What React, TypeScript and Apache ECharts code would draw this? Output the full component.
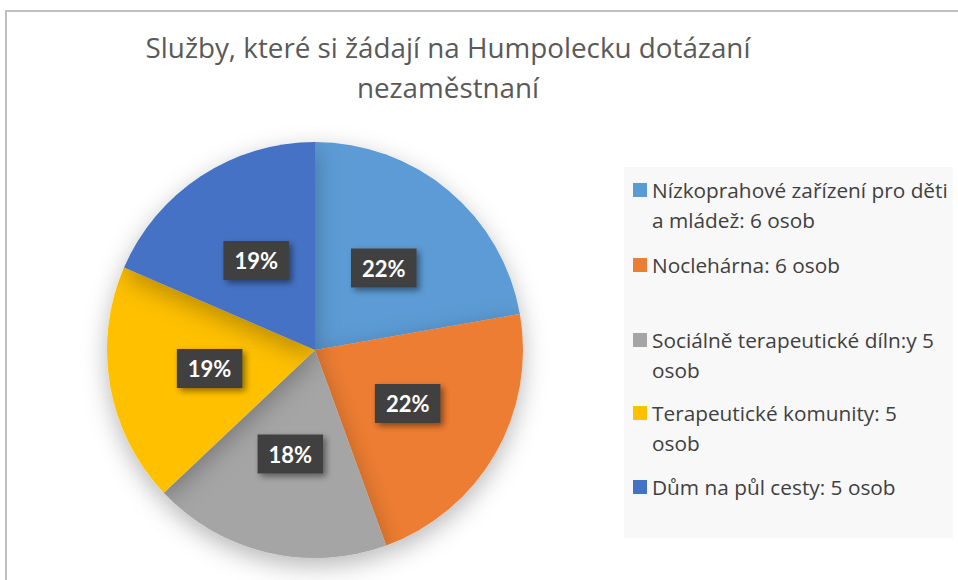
import React, { useEffect, useRef } from "react";
import * as echarts from "echarts";

const titleText = "Služby, které si žádají na Humpolecku dotázaní\nnezaměstnaní";
const categories = [
  "Nízkoprahové zařízení pro děti a mládež",
  "Noclehárna",
  "Sociálně terapeutické díln:y",
  "Terapeutické komunity",
  "Dům na půl cesty",
];
const legendTexts = [
  "Nízkoprahové zařízení pro děti\na mládež: 6 osob",
  "Noclehárna: 6 osob",
  "Sociálně terapeutické díln:y 5\nosob",
  "Terapeutické komunity: 5\nosob",
  "Dům na půl cesty: 5 osob",
];
const values = [6, 6, 5, 5, 5];
const percentLabels = ["22%", "22%", "18%", "19%", "19%"];
const colors = ["#5B9BD5", "#ED7D31", "#A5A5A5", "#FFC000", "#4472C4"];

// layout (not data)
const legendRowY = [190, 265, 340, 413, 487];
const FONT = "'Open Sans', Lato, sans-serif";
const LABEL_FONT = "Lato, 'Open Sans', sans-serif";

export default function App() {
  const ref = useRef<HTMLDivElement>(null);
  useEffect(() => {
    if (!ref.current) return;
    const chart = echarts.init(ref.current, undefined, { renderer: "svg" });
    const legendGraphics: any[] = [];
    legendTexts.forEach((t, i) => {
      legendGraphics.push({
        type: "rect",
        shape: { x: 633, y: legendRowY[i] - 7, width: 14, height: 14 },
        style: { fill: colors[i] },
        z: 10,
      });
      legendGraphics.push({
        type: "text",
        x: 652,
        y: legendRowY[i] - 15,
        style: {
          text: t,
          fontFamily: FONT,
          fontSize: 20.8,
          lineHeight: 30,
          fill: "#404040",
          textVerticalAlign: "top",
        },
        z: 10,
      });
    });
    chart.setOption({
      animation: false,
      backgroundColor: "#ffffff",
      graphic: [
        {
          type: "rect",
          shape: { x: 6, y: 11, width: 2000, height: 2000 },
          style: { fill: "none", stroke: "#BFBFBF", lineWidth: 2 },
          z: 1,
        },
        {
          type: "text",
          x: 448,
          y: 27,
          style: {
            text: titleText,
            fontFamily: FONT,
            fontSize: 27.8,
            lineHeight: 40,
            fill: "#595959",
            textAlign: "center",
            textVerticalAlign: "top",
          },
        },
        {
          type: "rect",
          shape: { x: 624, y: 167, width: 329, height: 371 },
          style: { fill: "#F8F8F8" },
          z: 5,
        },
        ...legendGraphics,
      ],
      series: [
        {
          type: "pie",
          center: [315, 350],
          radius: 208,
          startAngle: 90,
          clockwise: true,
          data: values.map((v, i) => ({
            name: categories[i],
            value: v,
            itemStyle: { color: colors[i] },
          })),
          itemStyle: {
            borderWidth: 0,
            shadowBlur: 24,
            shadowColor: "rgba(0,0,0,0.28)",
            shadowOffsetX: 0,
            shadowOffsetY: 8,
          },
          label: {
            show: true,
            position: "inside",
            formatter: (p: any) => percentLabels[p.dataIndex],
            fontFamily: LABEL_FONT,
            fontSize: 22,
            fontWeight: "bold",
            color: "#ffffff",
            backgroundColor: "#404040",
            padding: [9, 11, 8, 11],
            shadowColor: "rgba(0,0,0,0.45)",
            shadowBlur: 6,
            shadowOffsetX: 3,
            shadowOffsetY: 3,
          },
          labelLine: { show: false },
          emphasis: { disabled: true },
        },
      ],
    });
    return () => chart.dispose();
  }, []);
  return (
    <div
      ref={ref}
      style={{ position: "fixed", left: 0, top: 0, width: 958, height: 580 }}
    />
  );
}
